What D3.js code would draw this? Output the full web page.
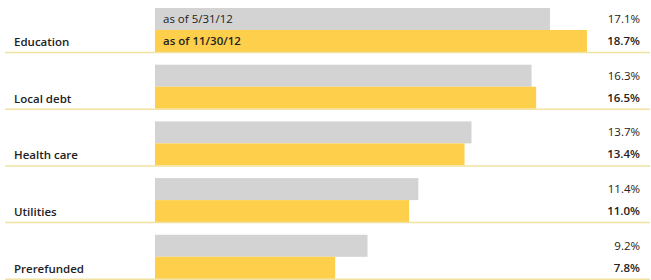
<!DOCTYPE html>
<html>
<head>
<meta charset="utf-8">
<script src="https://cdn.jsdelivr.net/npm/d3@7"></script>
<style>
  body { margin: 0; background: #fff; }
  text { font-family: "Open Sans", sans-serif; fill: #222; }
</style>
</head>
<body>
<div id="chart"></div>
<script>
// sector weights, % of portfolio
var categories = ["Education", "Local debt", "Health care", "Utilities", "Prerefunded"];
var series = ["as of 5/31/12", "as of 11/30/12"];
var may12 = [17.1, 16.3, 13.7, 11.4, 9.2];
var nov12 = [18.7, 16.5, 13.4, 11.0, 7.8];

var width = 651, height = 280;
var colors = ["#d3d3d3", "#fecf4a"];

var svg = d3.select("#chart")
    .append("svg")
    .attr("width", width)
    .attr("height", height);

var x = d3.scaleLinear()
    .domain([0, 20])
    .range([155, 155 + 20 * 23.1]);

var y = d3.scaleBand()
    .domain(categories)
    .range([8, 278.8])
    .paddingInner(0.224)
    .paddingOuter(0);

var ySub = d3.scaleBand()
    .domain(series)
    .range([0, y.bandwidth()])
    .padding(0);

var rows = categories.map(function (c, i) {
    return { cat: c, vals: [may12[i], nov12[i]] };
});

var g = svg.selectAll("g.row")
    .data(rows)
    .enter()
    .append("g")
    .attr("class", "row")
    .attr("transform", function (d) { return "translate(0," + y(d.cat) + ")"; });

// bars
g.selectAll("rect")
    .data(function (d) { return d.vals.map(function (v, j) { return { s: series[j], v: v, j: j }; }); })
    .enter()
    .append("rect")
    .attr("x", x(0))
    .attr("y", function (d) { return ySub(d.s); })
    .attr("width", function (d) { return x(d.v) - x(0); })
    .attr("height", ySub.bandwidth())
    .attr("fill", function (d) { return colors[d.j]; });

// separator line under each group
g.append("line")
    .attr("x1", 5)
    .attr("x2", 650)
    .attr("y1", y.bandwidth() + 0.5)
    .attr("y2", y.bandwidth() + 0.5)
    .attr("stroke", "#f1e2a2")
    .attr("stroke-width", 1.5);

// category labels
g.append("text")
    .attr("x", 14)
    .attr("y", y.bandwidth() - 6)
    .attr("font-size", 11.5)
    .attr("font-weight", 600)
    .text(function (d) { return d.cat; });

// value labels
g.selectAll("text.val")
    .data(function (d) { return d.vals.map(function (v, j) { return { s: series[j], v: v, j: j }; }); })
    .enter()
    .append("text")
    .attr("class", "val")
    .attr("x", 640)
    .attr("y", function (d) { return ySub(d.s) + ySub.bandwidth() / 2 + 4; })
    .attr("text-anchor", "end")
    .attr("font-size", 11.5)
    .attr("font-weight", function (d) { return d.j == 1 ? 600 : 400; })
    .text(function (d) { return d3.format(".1f")(d.v) + "%"; });

// legend text inside first group's bars
var first = svg.append("g")
    .attr("transform", "translate(0," + y(categories[0]) + ")");
first.selectAll("text")
    .data(series)
    .enter()
    .append("text")
    .attr("x", x(0) + 8)
    .attr("y", function (d) { return ySub(d) + ySub.bandwidth() / 2 + 4; })
    .attr("font-size", 11.5)
    .attr("font-weight", function (d, i) { return i == 1 ? 600 : 400; })
    .text(function (d) { return d; });
</script>
</body>
</html>
